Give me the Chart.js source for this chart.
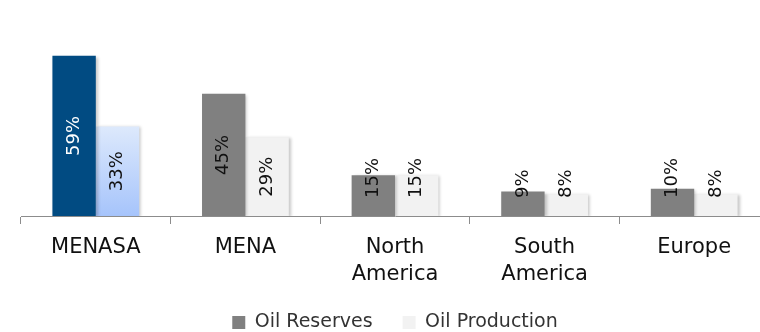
<!DOCTYPE html>
<html>
<head>
<meta charset="utf-8">
<script src="https://cdn.jsdelivr.net/npm/chart.js@4/dist/chart.umd.min.js"></script>
<style>
  html, body { margin: 0; padding: 0; background: #fff; overflow: hidden; }
  #wrap { width: 760px; height: 332px; overflow: hidden; }
  #box { width: 800px; height: 342px; }
</style>
</head>
<body>
<div id="wrap"><div id="box"><canvas id="oilChart"></canvas></div></div>
<script>
const regions = ["MENASA", "MENA", ["North", "America"], ["South", "America"], "Europe"];
const oilReserves = [59, 45, 15, 9, 10];
const oilProduction = [33, 29, 15, 8, 8];

const FONT = "'DejaVu Sans', sans-serif";

// first group (MENASA) is drawn in blue, the rest in gray
function productionFill(ctx) {
  if (ctx.dataIndex !== 0) return "#f2f2f2";
  const chart = ctx.chart;
  const y = chart.scales && chart.scales.y;
  if (!chart.chartArea || !y) return "#c3d7fb";
  const g = chart.ctx.createLinearGradient(0, y.getPixelForValue(oilProduction[0]), 0, chart.chartArea.bottom);
  g.addColorStop(0, "#dde9fc");
  g.addColorStop(1, "#a6c4fb");
  return g;
}

// vertical value labels inside the bars
const barLabels = {
  id: "barLabels",
  afterDatasetsDraw(chart) {
    const c = chart.ctx;
    c.save();
    c.font = "18px " + FONT;
    c.textAlign = "center";
    c.textBaseline = "middle";
    chart.data.datasets.forEach((ds, di) => {
      chart.getDatasetMeta(di).data.forEach((bar, i) => {
        const text = ds.data[i] + "%";
        const len = c.measureText(text).width;
        const mid = (bar.y + bar.base) / 2;
        const cy = Math.min(mid, bar.base - 18 - len / 2);
        c.save();
        c.translate(bar.x, cy);
        c.rotate(-Math.PI / 2);
        c.fillStyle = (di === 0 && i === 0) ? "#ffffff" : "#111111";
        c.fillText(text, 0, 0);
        c.restore();
      });
    });
    c.restore();
  }
};

// soft drop shadow behind the bars
const barShadow = {
  id: "barShadow",
  beforeDatasetsDraw(chart) {
    const c = chart.ctx;
    c.save();
    c.shadowColor = "rgba(0,0,0,0.22)";
    c.shadowBlur = 3;
    c.shadowOffsetX = 2;
    c.shadowOffsetY = 1;
  },
  afterDatasetsDraw(chart) {
    chart.ctx.restore();
  }
};

new Chart(document.getElementById("oilChart"), {
  type: "bar",
  data: {
    labels: regions,
    datasets: [
      {
        label: "Oil Reserves",
        data: oilReserves,
        backgroundColor: oilReserves.map((v, i) => i === 0 ? "#014b82" : "#808080"),
        borderWidth: 0
      },
      {
        label: "Oil Production",
        data: oilProduction,
        backgroundColor: productionFill,
        borderWidth: 0
      }
    ]
  },
  options: {
    responsive: true,
    maintainAspectRatio: false,
    animation: false,
    layout: { padding: { left: 21, right: 31, top: 26, bottom: 0 } },
    datasets: { bar: { categoryPercentage: 0.58, barPercentage: 1 } },
    scales: {
      x: {
        afterFit(scale) { scale.height = 67; },
        grid: {
          display: true,
          drawOnChartArea: false,
          drawTicks: true,
          tickLength: 8,
          color: "#8c8c8c",
          offset: true
        },
        border: { color: "#8c8c8c", width: 1 },
        ticks: {
          color: "#111111",
          font: { family: FONT, size: 21, lineHeight: 1.3 },
          padding: 10,
          maxRotation: 0,
          autoSkip: false
        }
      },
      y: {
        display: false,
        min: 0,
        max: 70
      }
    },
    plugins: {
      legend: {
        position: "bottom",
        labels: {
          color: "#333333",
          font: { family: FONT, size: 19 },
          boxWidth: 13,
          boxHeight: 13,
          padding: 30,
          generateLabels(chart) {
            return [
              { text: "Oil Reserves", fillStyle: "#808080", strokeStyle: "#808080", lineWidth: 0, datasetIndex: 0, fontColor: "#333333" },
              { text: "Oil Production", fillStyle: "#f2f2f2", strokeStyle: "#f2f2f2", lineWidth: 0, datasetIndex: 1, fontColor: "#333333" }
            ];
          }
        }
      },
      tooltip: { enabled: false }
    }
  },
  plugins: [barShadow, barLabels]
});
</script>
</body>
</html>
